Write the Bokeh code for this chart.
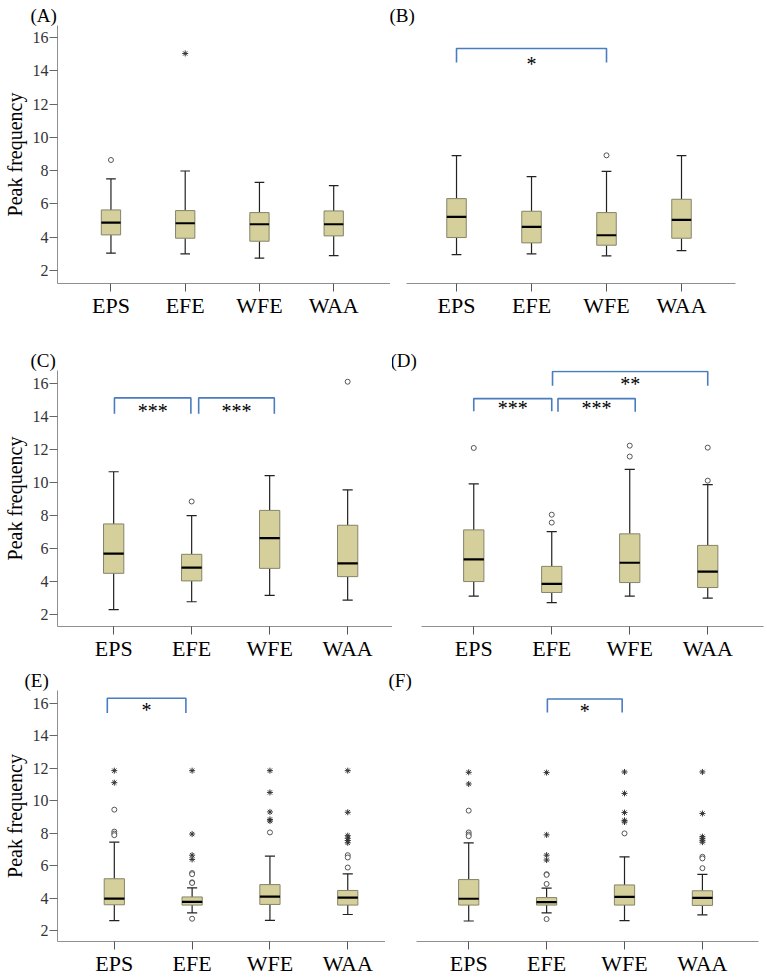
from bokeh.plotting import figure
from bokeh.models import Range1d, FixedTicker, ColumnDataSource
from bokeh.layouts import column, row
from bokeh.embed import file_html
from bokeh.resources import INLINE
from bokeh.core.properties import value

categories = ["EPS", "EFE", "WFE", "WAA"]
y_ticks = [2, 4, 6, 8, 10, 12, 14, 16]
y_label = "Peak frequency"

# ---- Panel A ----
A_low = [3.04, 3.00, 2.74, 2.90]
A_q1 = [4.14, 3.94, 3.76, 4.08]
A_med = [4.88, 4.84, 4.78, 4.78]
A_q3 = [5.64, 5.60, 5.48, 5.58]
A_high = [7.50, 7.98, 7.30, 7.10]
A_circles = [[8.64], [], [], []]
A_stars = [[], [15.04], [], []]
A_sig = []

# ---- Panel B ----
B_low = [2.96, 3.00, 2.88, 3.20]
B_q1 = [3.98, 3.66, 3.52, 3.94]
B_med = [5.22, 4.62, 4.12, 5.04]
B_q3 = [6.32, 5.56, 5.48, 6.28]
B_high = [8.90, 7.64, 7.96, 8.90]
B_circles = [[], [], [8.92], []]
B_stars = [[], [], [], []]
# (from, to, bracket top, bracket foot, label level, label)
B_sig = [("EPS", "WFE", 15.34, 14.50, 14.40, "*")]

# ---- Panel C ----
C_low = [2.30, 2.78, 3.16, 2.88]
C_q1 = [4.50, 4.04, 4.80, 4.30]
C_med = [5.69, 4.84, 6.63, 5.10]
C_q3 = [7.49, 5.65, 8.31, 7.41]
C_high = [10.65, 7.99, 10.41, 9.55]
C_circles = [[], [8.85], [], [16.10]]
C_stars = [[], [], [], []]
C_sig = [("EPS", "EFE", 15.12, 14.16, 14.30, "***"),
         ("EFE", "WFE", 15.12, 14.16, 14.30, "***")]

# ---- Panel D ----
D_low = [3.12, 2.72, 3.12, 3.00]
D_q1 = [4.00, 3.34, 3.94, 3.64]
D_med = [5.35, 3.86, 5.14, 4.60]
D_q3 = [7.13, 4.92, 6.89, 6.19]
D_high = [9.91, 7.03, 10.79, 9.87]
D_circles = [[12.09], [8.05, 7.57], [12.23, 11.57], [12.11, 10.11]]
D_stars = [[], [], [], []]
D_sig = [("EPS", "EFE", 15.08, 14.32, 14.48, "***"),
         ("EFE", "WFE", 15.08, 14.28, 14.48, "***"),
         ("EFE", "WAA", 16.72, 15.86, 15.96, "**")]

# ---- Panel E ----
E_low = [2.62, 3.10, 2.64, 3.00]
E_q1 = [3.60, 3.58, 3.62, 3.58]
E_med = [3.98, 3.78, 4.10, 4.04]
E_q3 = [5.20, 4.08, 4.84, 4.48]
E_high = [7.45, 4.64, 6.59, 5.50]
E_circles = [[9.45, 8.10, 7.98, 7.88], [5.55, 5.48, 4.98, 4.94, 2.74], [8.05], [6.65, 6.51, 5.89]]
E_stars = [[11.85, 11.11], [11.85, 7.95, 6.65, 6.39], [11.85, 10.51, 9.31, 8.85, 8.75],
           [11.85, 9.29, 7.85, 7.69, 7.55, 7.41]]
E_sig = [("EPS", "EFE", 16.30, 15.40, 15.56, "*")]

# ---- Panel F ----
F_low = [2.60, 3.10, 2.62, 2.98]
F_q1 = [3.58, 3.58, 3.58, 3.56]
F_med = [3.97, 3.76, 4.08, 4.02]
F_q3 = [5.15, 4.04, 4.82, 4.46]
F_high = [7.41, 4.62, 6.55, 5.47]
F_circles = [[9.39, 8.05, 7.92, 7.82], [5.48, 5.44, 4.88, 2.72], [7.99], [6.55, 6.45, 5.85]]
F_stars = [[11.75, 11.03], [11.73, 7.90, 6.65, 6.35], [11.77, 10.45, 9.27, 8.79, 8.69],
           [11.77, 9.21, 7.79, 7.69, 7.57, 7.45]]
F_sig = [("EFE", "WFE", 16.26, 15.42, 15.50, "*")]

FONT = "Liberation Serif"
BOX_FILL = "#d4cf9b"
BOX_LINE = "#85846a"
AXIS_COL = "#8f8f8f"
SIG_COL = "#4a7cc0"

# small horizontal nudges of bracket ends (style only), per panel, per bracket
NUDGE = {
    "(B)": [(0.0, 0.0)],
    "(C)": [(0.01, -0.01), (0.09, 0.06)],
    "(D)": [(0.0, 0.0), (0.08, 0.07), (0.01, 0.0)],
    "(E)": [(-0.09, -0.08)],
    "(F)": [(0.01, -0.03)],
}


def make_panel(letter, low, q1, med, q3, high, circles, stars, sigs, left,
               width, height, mbl, mbr, mbt, mbb, xr, yr, title_dx):
    p = figure(width=width, height=height, x_range=Range1d(*xr), y_range=Range1d(*yr),
               output_backend="svg", toolbar_location=None,
               y_axis_location="left" if left else None,
               min_border_left=mbl, min_border_right=mbr,
               min_border_top=mbt, min_border_bottom=mbb)
    p.grid.visible = False
    p.outline_line_color = None
    p.background_fill_color = "white"
    p.border_fill_color = "white"

    p.title.text = letter
    p.title.align = "left"
    p.title.offset = title_dx
    p.title.standoff = 0
    p.title.text_font = FONT
    p.title.text_font_size = "19px"
    p.title.text_font_style = "normal"
    p.title.text_color = "black"

    xa = p.xaxis[0]
    xa.ticker = FixedTicker(ticks=list(range(len(categories))))
    xa.major_label_overrides = {i: c for i, c in enumerate(categories)}
    xa.major_label_text_font = FONT
    xa.major_label_text_font_size = "22px"
    xa.major_label_text_color = "black"
    xa.major_label_standoff = 1
    xa.major_tick_out = 8
    xa.major_tick_in = 0
    xa.minor_tick_out = 0
    xa.minor_tick_in = 0
    xa.axis_line_color = AXIS_COL
    xa.major_tick_line_color = "#555555"

    if left:
        ya = p.yaxis[0]
        ya.ticker = FixedTicker(ticks=y_ticks)
        ya.major_label_text_font = FONT
        ya.major_label_text_font_size = "16px"
        ya.major_label_text_color = "#333333"
        ya.major_label_standoff = 1
        ya.major_tick_out = 8
        ya.major_tick_in = 0
        ya.minor_tick_out = 0
        ya.minor_tick_in = 0
        ya.axis_line_color = AXIS_COL
        ya.major_tick_line_color = "#666666"
        ya.axis_label = y_label
        ya.axis_label_text_font = FONT
        ya.axis_label_text_font_style = "normal"
        ya.axis_label_text_font_size = "20px"
        ya.axis_label_text_color = "black"
        ya.axis_label_standoff = 4

    xs = list(range(len(categories)))
    bw = 0.13
    cw = 0.065
    src = ColumnDataSource(dict(x=xs, low=low, q1=q1, med=med, q3=q3, high=high,
                                l=[x - bw for x in xs], r=[x + bw for x in xs],
                                cl=[x - cw for x in xs], cr=[x + cw for x in xs]))
    p.segment(x0="x", y0="q3", x1="x", y1="high", source=src, line_color="#222222", line_width=1.2)
    p.segment(x0="x", y0="low", x1="x", y1="q1", source=src, line_color="#222222", line_width=1.2)
    p.segment(x0="cl", y0="high", x1="cr", y1="high", source=src, line_color="#222222", line_width=1.2)
    p.segment(x0="cl", y0="low", x1="cr", y1="low", source=src, line_color="#222222", line_width=1.2)
    p.quad(left="l", right="r", bottom="q1", top="q3", source=src,
           fill_color=BOX_FILL, line_color=BOX_LINE, line_width=1)
    p.segment(x0="l", y0="med", x1="r", y1="med", source=src, line_color="black", line_width=2.2)

    cx, cy = [], []
    for i, vals in enumerate(circles):
        cx += [i] * len(vals)
        cy += vals
    if cx:
        p.scatter(cx, cy, marker="circle", size=5, fill_color="white",
                  line_color="#555555", line_width=1)
    sx, sy = [], []
    for i, vals in enumerate(stars):
        sx += [i] * len(vals)
        sy += vals
    if sx:
        p.scatter(sx, sy, marker="asterisk", size=6, line_color="#333333", line_width=1)

    nudges = NUDGE.get(letter, [])
    for k, (a, b, top, bot, ty, txt) in enumerate(sigs):
        d0, d1 = nudges[k] if k < len(nudges) else (0.0, 0.0)
        x0 = categories.index(a) + d0
        x1 = categories.index(b) + d1
        p.line([x0, x0, x1, x1], [bot, top, top, bot], line_color=SIG_COL, line_width=1.6)
        p.text([(x0 + x1) / 2], [ty], text=[txt],
               text_font=value(FONT), text_font_size="20px", text_color="black",
               text_align="center", text_baseline="middle")
    return p


pA = make_panel("(A)", A_low, A_q1, A_med, A_q3, A_high, A_circles, A_stars, A_sig, True,
                390, 335, 55, 0, 25, 52, (-0.72, 3.765), (1.22, 16.72), -27)
pB = make_panel("(B)", B_low, B_q1, B_med, B_q3, B_high, B_circles, B_stars, B_sig, False,
                372, 335, 16, 27, 25, 52, (-0.667, 3.72), (1.22, 16.72), -17)
pC = make_panel("(C)", C_low, C_q1, C_med, C_q3, C_high, C_circles, C_stars, C_sig, True,
                392, 328, 57, 0, 35, 35, (-0.72, 3.575), (1.28, 16.78), -27)
pD = make_panel("(D)", D_low, D_q1, D_med, D_q3, D_high, D_circles, D_stars, D_sig, False,
                374, 328, 29, 3, 35, 35, (-0.67, 3.715), (1.28, 16.78), -31)
pE = make_panel("(E)", E_low, E_q1, E_med, E_q3, E_high, E_circles, E_stars, E_sig, True,
                385, 315, 55, 0, 27, 33, (-0.73, 3.485), (1.34, 16.78), -33)
pF = make_panel("(F)", F_low, F_q1, F_med, F_q3, F_high, F_circles, F_stars, F_sig, False,
                380, 315, 31, 7, 27, 33, (-0.67, 3.72), (1.34, 16.78), -28)

layout = column(row(pA, pB), row(pC, pD), row(pE, pF))
open("out.html", "w").write(file_html(layout, INLINE))
